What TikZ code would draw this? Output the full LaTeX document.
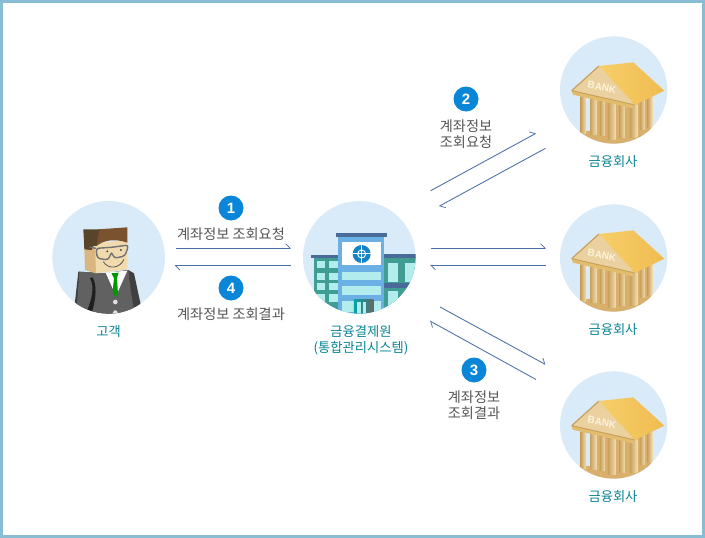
\documentclass[tikz,border=0pt]{standalone}
\usepackage{fontspec}
\newfontfamily\krfont{Noto Sans CJK KR}
\newfontfamily\numfont{Liberation Sans}
\usetikzlibrary{arrows.meta}
\definecolor{frameC}{HTML}{88BDD4}
\definecolor{discC}{HTML}{D9EBF8}
\definecolor{lineC}{HTML}{4A6FA5}
\definecolor{badgeC}{HTML}{0A86D8}
\definecolor{tealT}{HTML}{0B8494}
\definecolor{grayT}{HTML}{555555}
\definecolor{winC}{HTML}{B2ECEC}
\definecolor{tealB}{HTML}{3F9D94}
\definecolor{roofB}{HTML}{4A6A9A}
\definecolor{blueB}{HTML}{6BB0E4}
\definecolor{goldA}{HTML}{C9A05C}
\definecolor{goldB}{HTML}{F2DDB0}
\definecolor{goldC}{HTML}{D8B06C}
\definecolor{skinS}{HTML}{D8B67E}
\definecolor{skinF}{HTML}{F0DAAE}
\definecolor{hairA}{HTML}{7A5230}
\definecolor{hairB}{HTML}{57442A}
\definecolor{logoC}{HTML}{1583C6}
\definecolor{roofA}{HTML}{F6CE6A}
\definecolor{roofD}{HTML}{F0BC50}
\definecolor{eaveC}{HTML}{E3BC6E}
\definecolor{bankT}{HTML}{FBF3DE}
\tikzset{
  flow/.style={draw=lineC,line width=.85pt,-{Straight Barb[harpoon,length=4.5pt,width=9pt,line width=.7pt]}},
  badge/.style={circle,fill=badgeC,minimum size=25pt,inner sep=0pt,text=white,font=\numfont\bfseries\fontsize{15}{15}\selectfont},
  greytext/.style={text=grayT,align=center,inner sep=0pt,font=\krfont\fontsize{14.2}{16}\selectfont},
  tealtext/.style={text=tealT,align=center,inner sep=0pt,font=\krfont\fontsize{13.3}{16}\selectfont},
  column/.style={left color=goldA,right color=goldB},
}
\newcommand{\bankdisc}[2]{%
\begin{scope}[shift={(#1,#2)},x=.3333pt,y=-.3333pt]
  \fill[discC] (191,180) circle[radius=161];
  \begin{scope}
    \clip (191,180) circle[radius=161];
    \fill[goldC] (85,305) -- (300,290) -- (330,345) -- (60,345) -- cycle;
    \fill[goldC] (140,208) rectangle (300,325);
    \shade[column] (270,205) rectangle (285,300);
    \shade[column] (292,200) rectangle (307,292);
    \shade[column] (240,225) rectangle (262,322);
    \shade[column] (92,200) rectangle (108,310);
    \shade[column] (120,204) rectangle (140,315);
    \shade[column] (150,210) rectangle (165,318);
    \shade[column] (174,214) rectangle (197,330);
    \shade[column] (208,218) rectangle (225,322);
  \end{scope}
  \fill[eaveC] (65,182) -- (255,225) -- (252,236) -- (68,194) -- cycle;
  \fill[goldB!80!goldA] (147,108) -- (65,182) -- (255,225) -- cycle;
  \draw[goldA,line width=1pt] (65,182) -- (255,225);
  \draw[goldA,line width=1.2pt] (147,108) -- (65,182);
  \shade[left color=roofA,right color=roofD] (147,108) -- (250,97) -- (343,182) -- (255,225) -- cycle;
  \node[text=bankT,rotate=-11,inner sep=0pt,font=\numfont\bfseries\fontsize{10}{10}\selectfont] (bankword#2) at (156,172) {BANK};
\end{scope}}
\begin{document}
\begin{tikzpicture}[x=1pt,y=-1pt]
\useasboundingbox (0,0) rectangle (705,538);
\fill[white] (0,0) rectangle (705,538);
\draw[frameC,line width=3pt] (1.5,1.5) rectangle (703.5,536.5);

% customer
\begin{scope}[shift={(40,190)},x=.3333pt,y=-.3333pt]
  \fill[discC] (206,202) circle[radius=169];
  \begin{scope}
    \clip (206,202) circle[radius=169];
    \fill[black!75] (115,245) -- (195,250) -- (265,240) -- (282,250) -- (310,380) -- (100,380) -- cycle;
    \fill[black!62] (118,245) -- (195,250) -- (265,240) -- (272,300) -- (285,380) -- (105,380) -- (112,330) -- cycle;
    \fill[black!88] (150,265) .. controls (165,290) and (155,330) .. (140,365) -- (155,370) .. controls (170,320) and (170,285) .. (158,262) -- cycle;
    \fill[white] (197,248) -- (262,242) -- (228,318) -- cycle;
    \fill[green!60!black] (214,250) -- (236,248) -- (231,264) -- (234,312) -- (228,322) -- (218,305) -- (222,264) -- cycle;
    \fill[black!12] (226,336) circle[radius=7];
    \fill[black!12] (226,368) circle[radius=7];
  \end{scope}
  \fill[skinS] (133,170) -- (168,170) -- (168,250) -- (135,240) -- cycle;
  \fill[skinF] (165,160) -- (262,150) -- (262,238) -- (168,250) -- cycle;
  \fill[hairA] (175,118) -- (262,112) -- (262,158) .. controls (225,145) and (190,150) .. (170,168) -- cycle;
  \fill[hairB] (130,118) -- (178,118) -- (170,168) -- (160,168) -- (155,180) -- (133,178) -- cycle;
  \draw[black!55,line width=1.4pt,rounded corners=3pt] (168,175) -- (172,205) -- (205,210) -- (215,185) -- (222,205) -- (255,198) -- (266,165) -- (215,172) -- cycle;
  \draw[black!55,line width=1.4pt] (168,175) -- (150,172);
  \fill[black!80] (202,184) circle[radius=3];
  \fill[black!80] (243,180) circle[radius=3];
  \draw[black!65,line width=.8pt] (190,215) .. controls (205,240) and (240,235) .. (252,208);
\end{scope}

% settlement institute
\begin{scope}[shift={(295,190)},x=.3333pt,y=-.3333pt]
  \fill[discC] (193,202) circle[radius=169];
  \begin{scope}
    \clip (193,202) circle[radius=169];
    \fill[tealB] (58,200) rectangle (135,380);
    \fill[roofB] (48,195) rectangle (135,205);
    \foreach \yy in {212,248,278,313}{
      \fill[winC] (65,\yy) rectangle (90,\yy+22);
      \fill[winC] (102,\yy) rectangle (128,\yy+22);}
    \fill[winC] (65,348) rectangle (90,370);
    \fill[tealB] (268,200) rectangle (370,380);
    \fill[roofB] (268,192) rectangle (370,205);
    \fill[winC] (278,218) rectangle (308,275);
    \fill[winC] (330,218) rectangle (362,275);
    \fill[roofB] (268,280) rectangle (370,293);
    \fill[winC] (278,303) rectangle (308,365);
    \fill[winC] (330,303) rectangle (362,365);
    \fill[blueB] (130,140) rectangle (268,380);
    \fill[winC] (142,245) rectangle (257,270);
    \fill[winC] (142,288) rectangle (257,315);
    \fill[winC] (142,332) rectangle (257,365);
    \shade[left color=teal!70!cyan,right color=black!60] (177,328) rectangle (235,380);
    \fill[winC] (187,335) rectangle (197,380);
    \fill[winC] (205,335) rectangle (212,380);
  \end{scope}
  \fill[roofB] (123,129) rectangle (277,142);
  \fill[white] (142,157) rectangle (257,225);
  \fill[logoC] (200,192) circle[radius=27];
  \draw[white,line width=1pt] (200,165) -- (200,219) (173,192) -- (227,192);
  \draw[white,line width=.9pt] (200,192) circle[radius=12];
\end{scope}

\bankdisc{550}{30}
\bankdisc{550}{198}
\bankdisc{550}{365}

% text nodes
\node[tealtext] (customer) at (108.5,332) {고객};
\node[tealtext] (institute) at (361,340.5) {금융결제원\\(통합관리시스템)};
\node[tealtext] (bankA) at (613,162) {금융회사};
\node[tealtext] (bankB) at (613,330) {금융회사};
\node[tealtext] (bankC) at (613,497) {금융회사};

\node[badge] (n1) at (231,208) {1};
\node[badge] (n4) at (231,288) {4};
\node[badge] (n2) at (466,99) {2};
\node[badge] (n3) at (474,370) {3};
\node[greytext] (t1) at (231,234) {계좌정보 조회요청};
\node[greytext] (t4) at (231,314) {계좌정보 조회결과};
\node[greytext] (t2) at (466,134) {계좌정보\\조회요청};
\node[greytext] (t3) at (474,405) {계좌정보\\조회결과};

% connector ends
\coordinate (a1s) at (176,248.3); \coordinate (a1e) at (291,248.3);
\coordinate (a4s) at (291,265.5); \coordinate (a4e) at (174.5,265.5);
\coordinate (b1s) at (430.7,190.7); \coordinate (b1e) at (536,133.3);
\coordinate (b2s) at (545.5,148.3); \coordinate (b2e) at (439,206.3);
\coordinate (c1s) at (431,248.3); \coordinate (c1e) at (546,248.3);
\coordinate (c2s) at (546,265.3); \coordinate (c2e) at (430,265.3);
\coordinate (d1s) at (440,307); \coordinate (d1e) at (545.5,364.5);
\coordinate (d2s) at (536,379.5); \coordinate (d2e) at (430,321);
\foreach \p in {a1,a4,b1,b2,c1,c2,d1,d2}{\draw[flow] (\p s) -- (\p e);}
\end{tikzpicture}
\end{document}
